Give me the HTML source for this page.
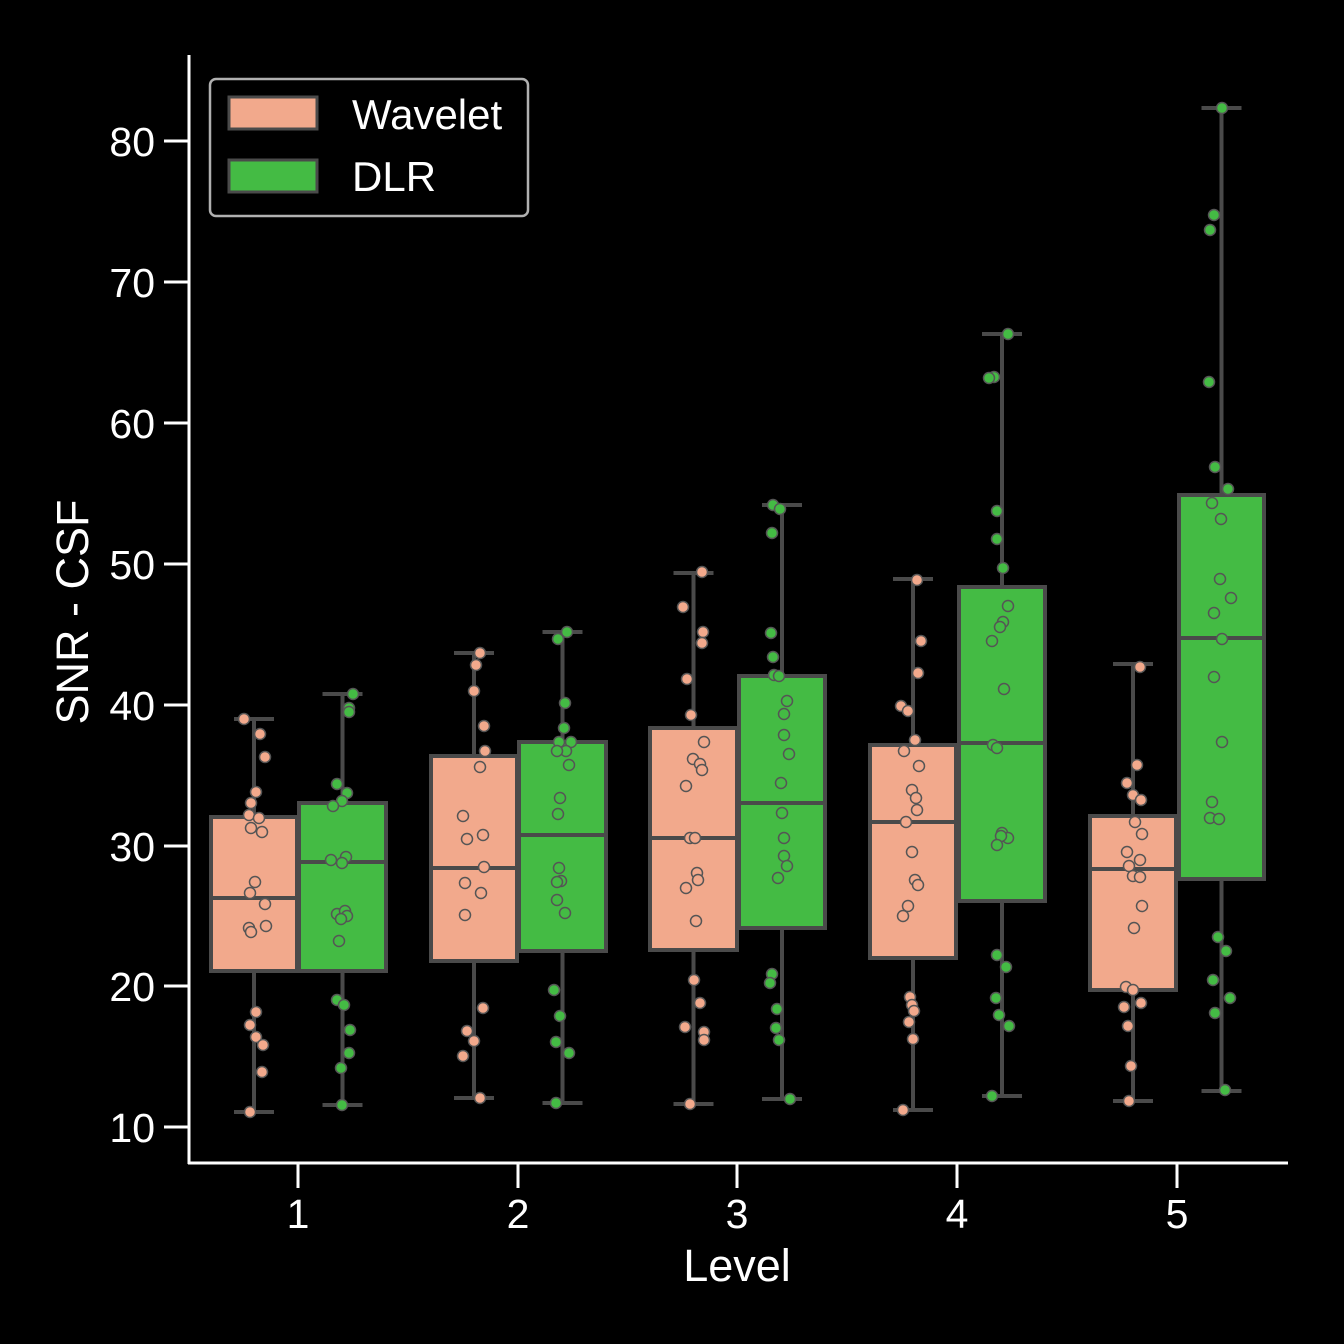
<!DOCTYPE html>
<html><head><meta charset="utf-8"><style>
html,body{margin:0;padding:0;background:#000;}
svg{display:block;font-family:"Liberation Sans",Arial,sans-serif;}
</style></head><body>
<svg id="s" width="1344" height="1344" viewBox="0 0 1344 1344" xmlns="http://www.w3.org/2000/svg">
<rect width="1344" height="1344" fill="#000"/>
<g id="plot"></g>
<line x1="189" y1="55" x2="189" y2="1164" stroke="#fff" stroke-width="3"/>
<line x1="188" y1="1163" x2="1288" y2="1163" stroke="#fff" stroke-width="3"/>
<g stroke="#fff" stroke-width="3">
<line x1="164" y1="141" x2="189" y2="141"/><line x1="164" y1="282" x2="189" y2="282"/>
<line x1="164" y1="423" x2="189" y2="423"/><line x1="164" y1="564" x2="189" y2="564"/>
<line x1="164" y1="705" x2="189" y2="705"/><line x1="164" y1="846" x2="189" y2="846"/>
<line x1="164" y1="986" x2="189" y2="986"/><line x1="164" y1="1127" x2="189" y2="1127"/>
<line x1="298" y1="1163" x2="298" y2="1188"/><line x1="518" y1="1163" x2="518" y2="1188"/>
<line x1="737" y1="1163" x2="737" y2="1188"/><line x1="957" y1="1163" x2="957" y2="1188"/>
<line x1="1177" y1="1163" x2="1177" y2="1188"/>
</g>
<g fill="#fff" font-size="41" text-anchor="end">
<text x="155" y="156">80</text><text x="155" y="297">70</text><text x="155" y="438">60</text>
<text x="155" y="579">50</text><text x="155" y="720">40</text><text x="155" y="861">30</text>
<text x="155" y="1001">20</text><text x="155" y="1142">10</text>
</g>
<g fill="#fff" font-size="41" text-anchor="middle">
<text x="298" y="1228">1</text><text x="518" y="1228">2</text><text x="737" y="1228">3</text>
<text x="957" y="1228">4</text><text x="1177" y="1228">5</text>
<text x="737" y="1281" font-size="45">Level</text>
<text x="0" y="0" font-size="45" transform="translate(88,612) rotate(-90)">SNR - CSF</text>
</g>
<rect x="210" y="79" width="318" height="137" rx="6" fill="#000" stroke="#b0b0b0" stroke-width="2.5"/>
<rect x="229" y="97" width="88" height="32" fill="#f2a98c" stroke="#4a4a4a" stroke-width="3"/>
<rect x="229" y="160" width="88" height="32" fill="#44bb44" stroke="#4a4a4a" stroke-width="3"/>
<text x="352" y="129" fill="#fff" font-size="42">Wavelet</text>
<text x="352" y="191" fill="#fff" font-size="42">DLR</text>
</svg>
<script>
var g=document.getElementById('plot'),NS='http://www.w3.org/2000/svg';
function el(n,a){var e=document.createElementNS(NS,n);for(var k in a)e.setAttribute(k,a[k]);g.appendChild(e);}
var W='#f2a98c',D='#44bb44',E='#4a4a4a';
var boxes=[[211,297,817,971,898,719,1112,W],[299,386,803,971,862,694,1105,D],
[431,517,756,961,868,653,1098,W],[519,606,742,951,835,632,1103,D],
[650,737,728,950,838,573,1104,W],[739,825,676,928,803,505,1099,D],
[870,956,745,958,822,579,1110,W],[959,1045,587,901,743,334,1096,D],
[1090,1176,816,990,869,664,1101,W],[1179,1264,495,879,638,108,1091,D]];
boxes.forEach(function(b){var c=(b[0]+b[1])/2;
el('line',{x1:c,x2:c,y1:b[5],y2:b[2],stroke:E,'stroke-width':4});
el('line',{x1:c,x2:c,y1:b[3],y2:b[6],stroke:E,'stroke-width':4});
el('line',{x1:c-20,x2:c+20,y1:b[5],y2:b[5],stroke:E,'stroke-width':4});
el('line',{x1:c-20,x2:c+20,y1:b[6],y2:b[6],stroke:E,'stroke-width':4});
el('rect',{x:b[0],y:b[2],width:b[1]-b[0],height:b[3]-b[2],fill:b[7],stroke:E,'stroke-width':4});
el('line',{x1:b[0],x2:b[1],y1:b[4],y2:b[4],stroke:E,'stroke-width':4});});
var pts=[[W,[244,719,260,734,265,757,256,792,251,803,249,815,259,818,251,828,262,832,255,882,250,893,265,904,249,928,251,932,266,926,256,1012,250,1025,256,1037,263,1045,262,1072,250,1112]],
[D,[353,694,349,708,349,712,337,784,347,793,342,801,333,806,346,857,331,860,342,863,337,914,345,911,347,916,341,919,339,941,337,1000,344,1005,350,1030,349,1053,341,1068,342,1105]],
[W,[480,653,476,665,474,691,484,726,485,751,480,767,463,816,483,835,467,839,484,867,465,883,481,893,465,915,483,1008,467,1031,474,1041,463,1056,480,1098]],
[D,[567,632,558,639,565,703,564,728,559,742,571,742,566,751,557,751,569,765,560,798,558,814,559,868,561,881,557,882,557,900,565,913,554,990,560,1016,556,1042,569,1053,556,1103]],
[W,[702,572,683,607,703,632,702,643,687,679,691,715,704,742,693,759,700,764,702,770,686,786,690,838,695,838,697,873,698,880,686,888,696,921,694,980,700,1003,685,1027,704,1032,704,1040,690,1104]],
[D,[773,505,780,509,772,533,771,633,773,657,774,675,779,676,787,701,784,714,784,735,789,754,781,783,782,813,784,838,784,856,787,866,778,878,772,974,770,983,777,1009,776,1028,779,1040,790,1099]],
[W,[917,580,921,641,918,673,901,706,908,711,915,740,904,751,919,766,912,790,916,798,917,810,906,822,912,852,915,880,918,885,908,906,903,916,910,997,912,1005,909,1022,914,1011,913,1039,903,1110]],
[D,[1008,334,994,377,989,378,997,511,997,539,1003,568,1008,606,1003,622,1000,627,992,641,1004,689,993,745,997,748,1002,833,1008,838,1001,836,997,845,997,955,1006,967,996,998,999,1015,1009,1026,992,1096]],
[W,[1140,667,1137,765,1127,783,1133,795,1141,800,1135,822,1142,834,1127,852,1140,860,1129,866,1133,876,1140,877,1142,906,1134,928,1126,987,1133,990,1141,1003,1124,1007,1128,1026,1131,1066,1129,1101]],
[D,[1222,108,1214,215,1210,230,1209,382,1215,467,1228,489,1212,503,1221,519,1220,579,1214,613,1231,598,1222,639,1214,677,1222,742,1212,802,1210,818,1219,819,1218,937,1226,951,1213,980,1230,998,1215,1013,1225,1090]]];
pts.forEach(function(p){for(var i=0;i<p[1].length;i+=2)el('circle',{cx:p[1][i],cy:p[1][i+1],r:5.5,fill:p[0],stroke:'#555','stroke-width':1.5});});
</script>
</body></html>
